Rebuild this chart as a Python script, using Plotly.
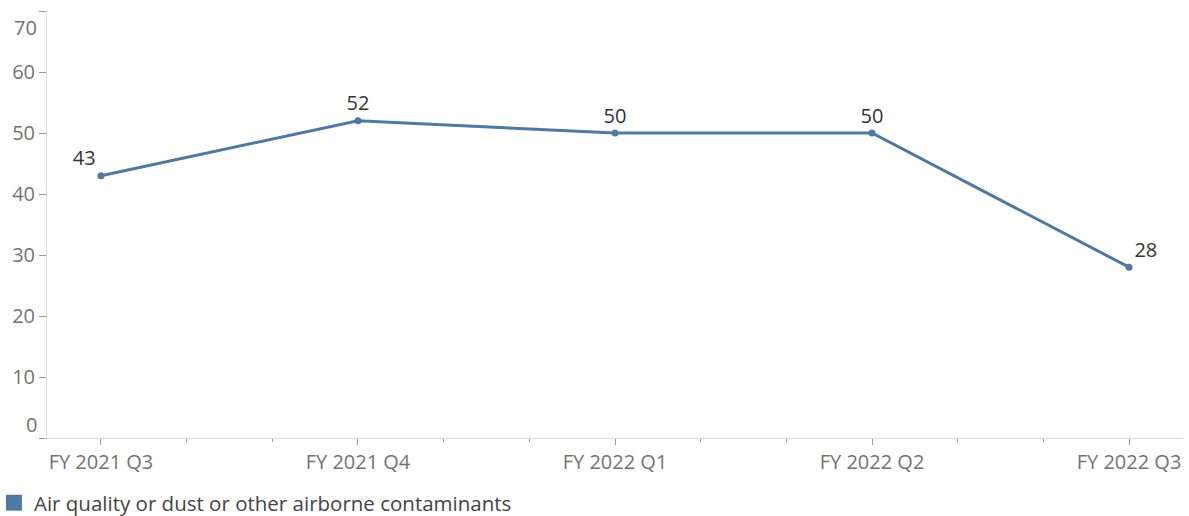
import plotly.graph_objects as go

categories = ["FY 2021 Q3", "FY 2021 Q4", "FY 2022 Q1", "FY 2022 Q2", "FY 2022 Q3"]
values = [43, 52, 50, 50, 28]
series_name = "Air quality or dust or other airborne contaminants"
y_ticks = [0, 10, 20, 30, 40, 50, 60, 70]

x_pos = list(range(len(categories)))
minor_vals = [i + f for i in range(len(categories) - 1) for f in (1/3, 2/3)]

BLUE = "#4e79a7"
FONT = "Open Sans"
GRAY = "#737373"
text_pos = ["top left"] + ["top center"] * (len(values) - 2) + ["top right"]

fig = go.Figure()
fig.add_trace(go.Scatter(
    x=x_pos, y=values, mode="lines+markers+text",
    line=dict(color=BLUE, width=3),
    marker=dict(color=BLUE, size=7),
    text=[str(v) for v in values], textposition=text_pos,
    textfont=dict(family=FONT, size=20, color="#333333"),
    showlegend=False, cliponaxis=False, hoverinfo="skip",
))
fig.add_trace(go.Scatter(
    x=[None], y=[None], mode="markers", name=series_name,
    marker=dict(color=BLUE, size=16, symbol="square"),
    showlegend=True,
))

ticktext = [str(v) if 0 < v < 70 else "" for v in y_ticks]

fig.update_layout(
    width=1189, height=516,
    margin=dict(l=47, r=6, t=11, b=78, autoexpand=False),
    paper_bgcolor="white", plot_bgcolor="white",
    font=dict(family=FONT, size=20, color=GRAY),
    xaxis=dict(
        range=[-0.21, 4.21], tickvals=x_pos, ticktext=categories,
        showgrid=False, zeroline=False, automargin=False,
        showline=True, linecolor="#dddddd", linewidth=1,
        ticks="outside", ticklen=6, tickcolor="#999999", tickwidth=1,
        tickfont=dict(family=FONT, size=20, color=GRAY),
        minor=dict(tickvals=minor_vals, ticks="outside", ticklen=3,
                   tickcolor="#999999", tickwidth=1, showgrid=False),
    ),
    yaxis=dict(
        range=[0, 70], tickvals=y_ticks, ticktext=ticktext,
        showgrid=False, zeroline=False, automargin=False,
        showline=True, linecolor="#dddddd", linewidth=1,
        ticks="outside", ticklen=7, tickcolor="#999999", tickwidth=1,
        tickfont=dict(family=FONT, size=20, color=GRAY),
    ),
    legend=dict(
        orientation="h", x=-0.0467, xanchor="left", y=-0.105, yanchor="top",
        font=dict(family=FONT, size=20.5, color="#444444"),
        itemsizing="trace", bgcolor="rgba(0,0,0,0)",
    ),
    showlegend=True,
)

for v, shift in ((y_ticks[0], 14), (y_ticks[-1], -16)):
    fig.add_annotation(
        x=0, xref="paper", y=v, yref="y", text=str(v), showarrow=False,
        xanchor="right", xshift=-8, yshift=shift,
        font=dict(family=FONT, size=20, color=GRAY),
    )

fig.write_html("out.html",
               config={"displayModeBar": False},
               post_script="document.body.style.margin='0';document.body.style.overflow='hidden';")
